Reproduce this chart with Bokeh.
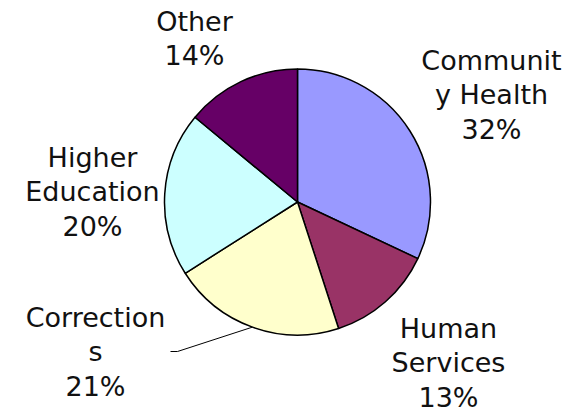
import math
from bokeh.plotting import figure
from bokeh.models import Range1d, ColumnDataSource
from bokeh.core.properties import value
from bokeh.embed import file_html
from bokeh.resources import INLINE

# ---- data ----
categories = ["Community Health", "Human Services", "Corrections", "Higher Education", "Other"]
shares = [32, 13, 21, 20, 14]
label_lines = [["Communit", "y Health"], ["Human", "Services"], ["Correction", "s"],
               ["Higher", "Education"], ["Other"]]
colors = ["#9999FF", "#993366", "#FFFFCC", "#CCFFFF", "#660066"]

# ---- layout (pixel space) ----
W, H = 571, 413
def X(ix):
    return ix
def Y(iy):
    return H - iy

cx, cy, R = X(297), Y(201.5), 133
label_pos = [(491, 70), (448, 338), (95, 327), (92, 167), (194, 31)]  # center x, first baseline
line_gap = 34.5
text_shift = -10.5

p = figure(width=W, height=H, output_backend="svg", toolbar_location=None,
           x_range=Range1d(0, W), y_range=Range1d(0, H), min_border=0)
p.axis.visible = False
p.grid.visible = False
p.outline_line_color = None
p.background_fill_color = "white"
p.border_fill_color = "white"

total = float(sum(shares))
starts, ends = [], []
cum = 0.0
for s in shares:
    a0 = math.pi / 2 - 2 * math.pi * cum / total
    cum += s
    a1 = math.pi / 2 - 2 * math.pi * cum / total
    starts.append(a0)
    ends.append(a1)

src = ColumnDataSource(dict(x=[cx] * len(shares), y=[cy] * len(shares),
                            start=starts, end=ends, color=colors, cat=categories))
p.wedge(x="x", y="y", radius=R, start_angle="start", end_angle="end", direction="clock",
        fill_color="color", line_color="black", line_width=1.5, source=src)

# labels
tx, ty, tt = [], [], []
for i, lines in enumerate(label_lines):
    lx, lb = label_pos[i]
    all_lines = lines + [f"{shares[i]}%"]
    for k, t in enumerate(all_lines):
        tx.append(X(lx))
        ty.append(Y(lb + text_shift + k * line_gap))
        tt.append(t)
p.text(x=tx, y=ty, text=tt, text_align="center", text_baseline="alphabetic",
       text_font=value("DejaVu Sans"), text_font_size="27px", text_color="#111111")

# leader line for Corrections (from slice mid-edge)
i = 2
mid = (starts[i] + ends[i]) / 2
ex, ey = cx + R * math.cos(mid), cy + R * math.sin(mid)
p.line(x=[X(170), X(177), ex], y=[Y(351), Y(351), ey], line_color="black", line_width=1)

open("out.html", "w").write(file_html(p, INLINE))
